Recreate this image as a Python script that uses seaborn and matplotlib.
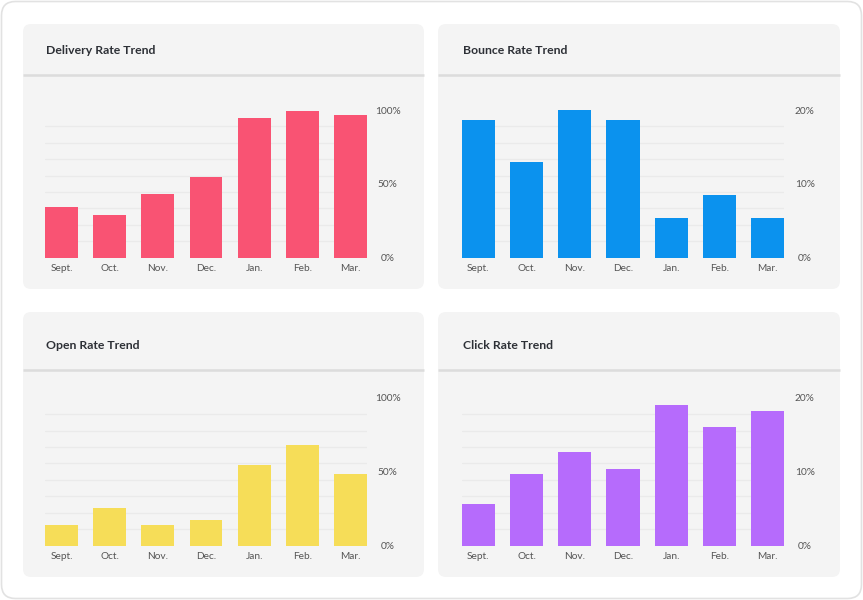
import numpy as np
import pandas as pd
import matplotlib
matplotlib.use('Agg')
import matplotlib.pyplot as plt
from matplotlib.patches import FancyBboxPatch
import seaborn as sns

# data
months = ['Sept.', 'Oct.', 'Nov.', 'Dec.', 'Jan.', 'Feb.', 'Mar.']
delivery_rate = [34.3, 28.9, 43.3, 54.9, 94.4, 99.5, 96.4]
bounce_rate = [18.6, 12.9, 20.0, 18.6, 5.4, 8.5, 5.4]
open_rate = [14.0, 25.2, 14.0, 17.1, 54.5, 67.8, 48.4]
click_rate = [5.6, 9.7, 12.7, 10.3, 19.0, 16.0, 18.2]

titles = ['Delivery Rate Trend', 'Bounce Rate Trend', 'Open Rate Trend', 'Click Rate Trend']
series = [delivery_rate, bounce_rate, open_rate, click_rate]
colors = ['#F95373', '#0B92EE', '#F6DD58', '#B66BFC']
ymaxes = [100, 20, 100, 20]

sns.set_theme(style='white')
plt.rcParams['font.family'] = ['Lato', 'DejaVu Sans']

W, H = 863, 600
fig = plt.figure(figsize=(W / 100, H / 100), dpi=100)
fig.patch.set_facecolor('white')

# background axes in pixel units (origin top-left)
bg = fig.add_axes([0, 0, 1, 1])
bg.set_xlim(0, W)
bg.set_ylim(H, 0)
bg.axis('off')

bg.add_patch(FancyBboxPatch((1.5, 1.5), W - 3, H - 3,
                            boxstyle='round,pad=0,rounding_size=14',
                            fc='white', ec='#e2e2e2', lw=1.2))

# panel boxes: x0, y0, x1, y1, header line y
panels = [(23, 24, 424, 289, 74.5),
          (438, 24, 840, 289, 74.5),
          (23, 312, 424, 577, 369.5),
          (438, 312, 840, 577, 369.5)]
# plot areas: left, right, top, bottom
plot_areas = [(45, 367, 110, 257.7),
              (461.7, 784.3, 110, 257.7),
              (45, 367, 397.7, 545.7),
              (461.7, 784.3, 397.7, 545.7)]
title_pos = [(46, 50), (462.5, 50), (46, 345.5), (462.5, 345.5)]

bar_w = 0.685

for i in range(4):
    x0, y0, x1, y1, hy = panels[i]
    bg.add_patch(FancyBboxPatch((x0, y0), x1 - x0, y1 - y0,
                                boxstyle='round,pad=0,rounding_size=8',
                                fc='#f4f4f4', ec='none'))
    bg.plot([x0, x1], [hy, hy], color='#dcdcdc', lw=1.8, solid_capstyle='butt')
    tx, ty = title_pos[i]
    bg.text(tx, ty, titles[i], fontsize=8.8, fontweight='bold', color='#2d3036',
            ha='left', va='center')

    l, r, t, b = plot_areas[i]
    ax = fig.add_axes([l / W, 1 - b / H, (r - l) / W, (b - t) / H])
    ax.set_facecolor('none')
    df = pd.DataFrame({'month': months, 'value': series[i]})
    sns.barplot(data=df, x='month', y='value', color=colors[i], saturation=1,
                width=bar_w, linewidth=0, ax=ax)
    ax.set_xlim(-bar_w / 2, len(months) - 1 + bar_w / 2)
    ymax = ymaxes[i]
    ax.set_ylim(0, ymax)
    ax.set_xlabel('')
    ax.set_ylabel('')
    for s in ax.spines.values():
        s.set_visible(False)

    ax.yaxis.tick_right()
    ax.set_yticks([0, ymax / 2, ymax])
    ax.set_yticklabels([f'{int(v)}%' for v in [0, ymax / 2, ymax]])
    ax.set_yticks(np.linspace(0, ymax, 10), minor=True)
    ax.grid(False, which='major')
    ax.grid(True, which='minor', axis='y', color='#eaeaea', lw=0.9)
    ax.set_axisbelow(True)
    ax.tick_params(axis='y', which='both', length=0)
    ax.tick_params(axis='y', which='major', pad=14.8, labelsize=7.3, labelcolor='#555555')
    for lab in ax.get_yticklabels():
        lab.set_horizontalalignment('center')
    ax.tick_params(axis='x', length=0, pad=4.5, labelsize=7.3, labelcolor='#555555')

fig.savefig('out.png', dpi=100)
